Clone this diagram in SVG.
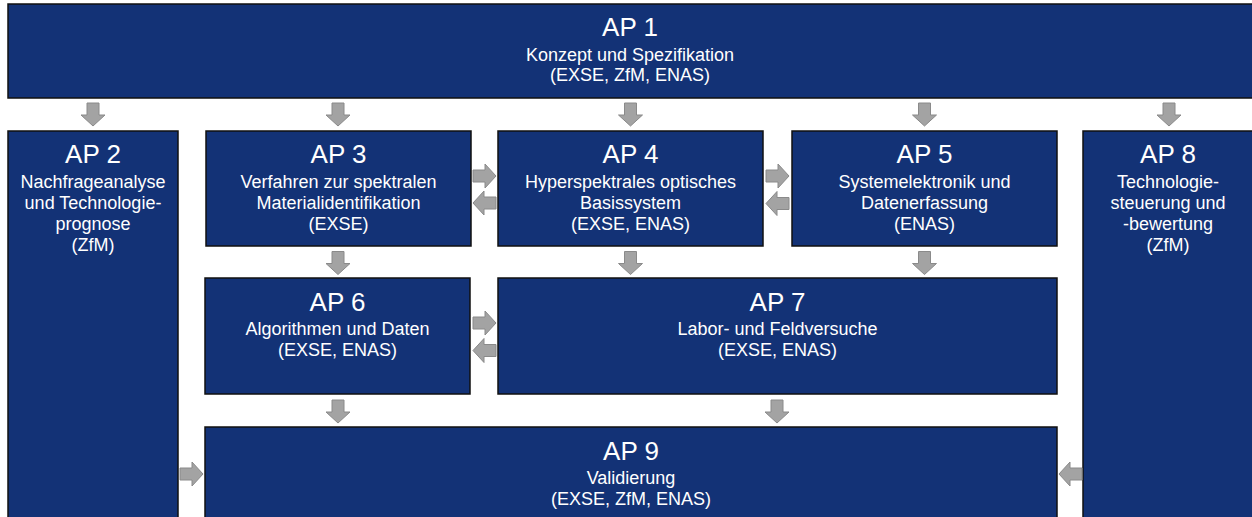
<svg xmlns="http://www.w3.org/2000/svg" xmlns:xlink="http://www.w3.org/1999/xlink" width="1252" height="517" viewBox="0 0 1252 517">
<defs>
<style>
.box{fill:#133276;stroke:#111;stroke-width:1.5}
.t{font-family:"Liberation Sans",Arial,sans-serif;fill:#fff;text-anchor:middle}
.h{font-size:26px}
.s{font-size:18px}
.arr{fill:#a3a3a3;stroke:#8a8a8a;stroke-width:1}
</style>
<path id="ad" d="M-6,0 H6 V12 H12 L0,23 L-12,12 H-6 Z"/>
</defs>
<rect x="0" y="0" width="1252" height="517" fill="#fff"/>
<g id="AP1"><rect class="box" x="8" y="4" width="1250" height="94"/>
<text class="t h" x="630" y="36">AP 1</text>
<text class="t s" x="630" y="61">Konzept und Spezifikation</text>
<text class="t s" x="630" y="81">(EXSE, ZfM, ENAS)</text></g>
<g id="AP2"><rect class="box" x="8" y="131" width="170" height="400"/>
<text class="t h" x="93" y="163">AP 2</text>
<text class="t s" x="93" y="188">Nachfrageanalyse</text>
<text class="t s" x="93" y="209">und Technologie-</text>
<text class="t s" x="93" y="230">prognose</text>
<text class="t s" x="93" y="251">(ZfM)</text></g>
<g id="AP3"><rect class="box" x="206" y="131" width="265" height="115"/>
<text class="t h" x="338.5" y="163">AP 3</text>
<text class="t s" x="338.5" y="188">Verfahren zur spektralen</text>
<text class="t s" x="338.5" y="209">Materialidentifikation</text>
<text class="t s" x="338.5" y="230">(EXSE)</text></g>
<g id="AP4"><rect class="box" x="498" y="131" width="265" height="115"/>
<text class="t h" x="630.5" y="163">AP 4</text>
<text class="t s" x="630.5" y="188">Hyperspektrales optisches</text>
<text class="t s" x="630.5" y="209">Basissystem</text>
<text class="t s" x="630.5" y="230">(EXSE, ENAS)</text></g>
<g id="AP5"><rect class="box" x="792" y="131" width="265" height="115"/>
<text class="t h" x="924.5" y="163">AP 5</text>
<text class="t s" x="924.5" y="188">Systemelektronik und</text>
<text class="t s" x="924.5" y="209">Datenerfassung</text>
<text class="t s" x="924.5" y="230">(ENAS)</text></g>
<g id="AP8"><rect class="box" x="1083" y="131" width="175" height="400"/>
<text class="t h" x="1168" y="163">AP 8</text>
<text class="t s" x="1168" y="188">Technologie-</text>
<text class="t s" x="1168" y="209">steuerung und</text>
<text class="t s" x="1168" y="230">-bewertung</text>
<text class="t s" x="1168" y="251">(ZfM)</text></g>
<g id="AP6"><rect class="box" x="205" y="278" width="265" height="116"/>
<text class="t h" x="337.5" y="311">AP 6</text>
<text class="t s" x="337.5" y="335">Algorithmen und Daten</text>
<text class="t s" x="337.5" y="356">(EXSE, ENAS)</text></g>
<g id="AP7"><rect class="box" x="498" y="278" width="559" height="116"/>
<text class="t h" x="777.5" y="311">AP 7</text>
<text class="t s" x="777.5" y="335">Labor- und Feldversuche</text>
<text class="t s" x="777.5" y="356">(EXSE, ENAS)</text></g>
<g id="AP9"><rect class="box" x="205" y="427" width="852" height="110"/>
<text class="t h" x="631" y="460">AP 9</text>
<text class="t s" x="631" y="484">Validierung</text>
<text class="t s" x="631" y="505">(EXSE, ZfM, ENAS)</text></g>
<g id="connectors" class="arr">
<use xlink:href="#ad" transform="translate(93,103)"/>
<use xlink:href="#ad" transform="translate(338,103)"/>
<use xlink:href="#ad" transform="translate(630.5,103)"/>
<use xlink:href="#ad" transform="translate(924.5,103)"/>
<use xlink:href="#ad" transform="translate(1169,103)"/>
<use xlink:href="#ad" transform="translate(338,251.5)"/>
<use xlink:href="#ad" transform="translate(630.5,251.5)"/>
<use xlink:href="#ad" transform="translate(924.5,251.5)"/>
<use xlink:href="#ad" transform="translate(338,400)"/>
<use xlink:href="#ad" transform="translate(777,400)"/>
<use xlink:href="#ad" transform="translate(473,176) rotate(-90)"/>
<use xlink:href="#ad" transform="translate(496,203) rotate(90)"/>
<use xlink:href="#ad" transform="translate(766,176) rotate(-90)"/>
<use xlink:href="#ad" transform="translate(789,203.5) rotate(90)"/>
<use xlink:href="#ad" transform="translate(473,323) rotate(-90)"/>
<use xlink:href="#ad" transform="translate(496,350.5) rotate(90)"/>
<use xlink:href="#ad" transform="translate(180,474) rotate(-90)"/>
<use xlink:href="#ad" transform="translate(1082,474) rotate(90)"/>
</g>
</svg>
